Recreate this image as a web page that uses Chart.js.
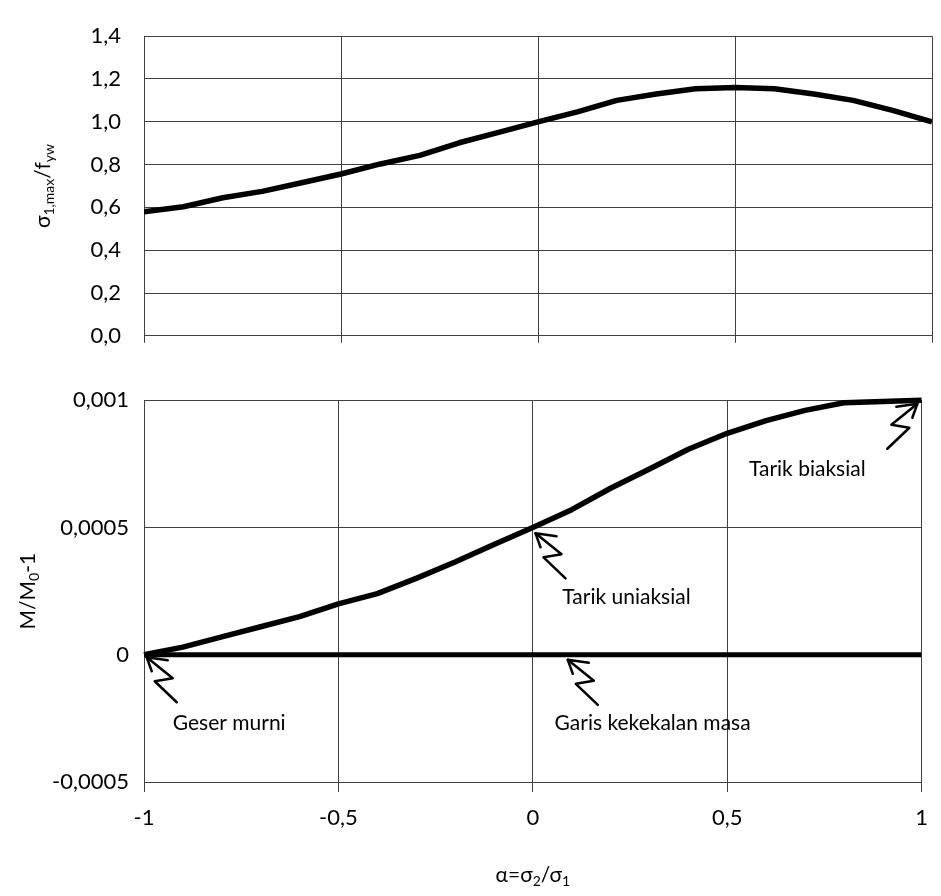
<!DOCTYPE html>
<html>
<head>
<meta charset="utf-8">
<script src="https://cdn.jsdelivr.net/npm/chart.js@4.4.1/dist/chart.umd.min.js"></script>
<style>
    body { margin: 0; background: #fff; }
    #wrap { position: relative; width: 941px; height: 896px; }
    canvas { position: absolute; left: 0; }
    #topChart { top: 0; }
    #bottomChart { top: 372px; }
</style>
</head>
<body>
<div id="wrap">
    <canvas id="topChart" width="941" height="372"></canvas>
    <canvas id="bottomChart" width="941" height="524"></canvas>
</div>
<script>
// alpha = sigma2 / sigma1
const alpha = [-1, -0.9, -0.8, -0.7, -0.6, -0.5, -0.4, -0.3, -0.2, -0.1, 0,
               0.1, 0.2, 0.3, 0.4, 0.5, 0.6, 0.7, 0.8, 0.9, 1];

// sigma1,max / fyw
const sigmaRatio = [0.58, 0.603, 0.645, 0.675, 0.715, 0.756, 0.803, 0.843, 0.902, 0.951, 1.0,
                    1.046, 1.10, 1.13, 1.154, 1.16, 1.154, 1.13, 1.10, 1.053, 1.0];

// M/M0 - 1
const massChange = [0, 0.00003, 0.00007, 0.00011, 0.00015, 0.0002, 0.00024, 0.0003, 0.000364, 0.000433, 0.0005,
                    0.00057, 0.000654, 0.00073, 0.000807, 0.00087, 0.00092, 0.00096, 0.00099, 0.000995, 0.001];

// garis kekekalan masa (M = M0)
const constX = [-1, 1];
const constY = [0, 0];

const xTicks = [-1, -0.5, 0, 0.5, 1];
const topTicks = [0, 0.2, 0.4, 0.6, 0.8, 1.0, 1.2, 1.4];
const bottomTicks = [-0.0005, 0, 0.0005, 0.001];

// notes on the lower chart (data coordinates)
const noteLabels = ['Geser murni', 'Tarik uniaksial', 'Garis kekekalan masa', 'Tarik biaksial'];
const noteX = [-0.926, 0.076, 0.056, 0.556];
const noteY = [-0.000271, 0.000227, -0.000271, 0.000729];
const arrowX = [-0.993, 0.007, 0.09, 0.989];
const arrowY = [-0.00001, 0.000477, -0.00002, 0.000986];
const arrowDir = [1, 1, 1, -1];

const family = 'Lato, "Open Sans", sans-serif';
const ink = '#000';
const gridColor = '#404040';

Chart.defaults.font.family = family;
Chart.defaults.font.size = 22;
Chart.defaults.color = ink;

const comma = v => String(+v.toFixed(4)).replace('.', ',');

function points(xs, ys) {
    return xs.map((x, i) => ({ x: x, y: ys[i] }));
}

// text with subscripts, centred on (x, y)
function drawRich(ctx, parts, x, y, rotate, size) {
    const subSize = Math.round(size * 0.68);
    ctx.save();
    ctx.translate(x, y);
    if (rotate) ctx.rotate(-Math.PI / 2);
    ctx.fillStyle = ink;
    ctx.textBaseline = 'middle';
    ctx.textAlign = 'left';
    let w = 0;
    parts.forEach(p => {
        ctx.font = (p.sub ? subSize : size) + 'px ' + family;
        w += ctx.measureText(p.t).width;
    });
    let cx = -w / 2;
    parts.forEach(p => {
        ctx.font = (p.sub ? subSize : size) + 'px ' + family;
        ctx.fillText(p.t, cx, p.sub ? size * 0.3 : 0);
        cx += ctx.measureText(p.t).width;
    });
    ctx.restore();
}

const axisTitles = {
    id: 'axisTitles',
    afterDraw(chart, args, opts) {
        const a = chart.chartArea;
        const ctx = chart.ctx;
        (opts.items || []).forEach(it => {
            const x = it.x !== undefined ? it.x : (a.left + a.right) / 2;
            const y = it.y !== undefined ? it.y : (a.top + a.bottom) / 2;
            drawRich(ctx, it.parts, x, y, it.rotate, 21);
        });
    }
};

// hand drawn zigzag arrows + notes
const notes = {
    id: 'notes',
    afterDatasetsDraw(chart) {
        const ctx = chart.ctx;
        const xs = chart.scales.x, ys = chart.scales.y;
        ctx.save();
        ctx.fillStyle = ink;
        ctx.font = '21px ' + family;
        ctx.textBaseline = 'middle';
        ctx.textAlign = 'left';
        noteLabels.forEach((t, i) => {
            ctx.fillText(t, xs.getPixelForValue(noteX[i]), ys.getPixelForValue(noteY[i]));
        });
        ctx.strokeStyle = ink;
        ctx.lineWidth = 2.5;
        ctx.lineJoin = 'round';
        ctx.lineCap = 'round';
        const shaft = [[21, 3], [0, 0], [26, 21], [8, 24], [30, 45]];
        const head = [[0, 0], [5, 14]];
        arrowX.forEach((ax, i) => {
            const px = xs.getPixelForValue(ax);
            const py = ys.getPixelForValue(arrowY[i]);
            const d = arrowDir[i];
            [shaft, head].forEach(line => {
                ctx.beginPath();
                line.forEach((p, k) => {
                    const X = px + d * p[0], Y = py + p[1];
                    if (k === 0) ctx.moveTo(X, Y); else ctx.lineTo(X, Y);
                });
                ctx.stroke();
            });
        });
        ctx.restore();
    }
};

function xScale(showLabels, tickLen) {
    return {
        type: 'linear',
        min: -1,
        max: 1,
        afterBuildTicks: s => { s.ticks = xTicks.map(v => ({ value: v })); },
        afterFit: s => { s.height = showLabels ? 114 : 12; },
        grid: { color: gridColor, lineWidth: 1, drawTicks: true, tickLength: tickLen },
        border: { color: gridColor, width: 1 },
        ticks: {
            display: showLabels,
            padding: 13,
            maxRotation: 0,
            callback: v => comma(v)
        }
    };
}

const common = {
    responsive: false,
    animation: false,
    devicePixelRatio: 1,
    events: [],
    plugins: { legend: { display: false }, tooltip: { enabled: false } }
};

new Chart(document.getElementById('topChart'), {
    type: 'line',
    data: {
        datasets: [{
            data: points(alpha, sigmaRatio),
            borderColor: ink,
            borderWidth: 5.5,
            pointRadius: 0,
            tension: 0,
            borderJoinStyle: 'round'
        }]
    },
    plugins: [axisTitles],
    options: {
        ...common,
        layout: { padding: { top: 14, right: 9, left: 0, bottom: 0 } },
        plugins: {
            ...common.plugins,
            axisTitles: {
                items: [{ x: 43, rotate: true, parts: [
                    { t: 'σ' }, { t: '1,max', sub: true }, { t: '/f' }, { t: 'yw', sub: true }
                ] }]
            }
        },
        scales: {
            x: xScale(false, 7),
            y: {
                min: 0,
                max: 1.4,
                afterBuildTicks: s => { s.ticks = topTicks.map(v => ({ value: v })); },
                afterFit: s => { s.width = 144; },
                grid: { color: gridColor, lineWidth: 1, drawTicks: false },
                border: { color: gridColor, width: 1 },
                ticks: { padding: 23, callback: v => v.toFixed(1).replace('.', ',') }
            }
        }
    }
});

new Chart(document.getElementById('bottomChart'), {
    type: 'line',
    data: {
        datasets: [{
            data: points(alpha, massChange),
            borderColor: ink,
            borderWidth: 5.5,
            pointRadius: 0,
            tension: 0,
            borderJoinStyle: 'round',
            clip: false
        }, {
            data: points(constX, constY),
            borderColor: ink,
            borderWidth: 5,
            pointRadius: 0,
            tension: 0
        }]
    },
    plugins: [axisTitles, notes],
    options: {
        ...common,
        layout: { padding: { top: 20, right: 9, left: 0, bottom: 0 } },
        plugins: {
            ...common.plugins,
            axisTitles: {
                items: [
                    { x: 28, rotate: true, parts: [
                        { t: 'M/M' }, { t: '0', sub: true }, { t: '-1' }
                    ] },
                    { y: 503, rotate: false, parts: [
                        { t: 'α=σ' }, { t: '2', sub: true }, { t: '/σ' }, { t: '1', sub: true }
                    ] }
                ]
            }
        },
        scales: {
            x: xScale(true, 10),
            y: {
                min: -0.0005,
                max: 0.001,
                afterBuildTicks: s => { s.ticks = bottomTicks.map(v => ({ value: v })); },
                afterFit: s => { s.width = 144; },
                grid: { color: gridColor, lineWidth: 1, drawTicks: false },
                border: { color: gridColor, width: 1 },
                ticks: { padding: 15, callback: v => comma(v) }
            }
        }
    }
});
</script>
</body>
</html>
